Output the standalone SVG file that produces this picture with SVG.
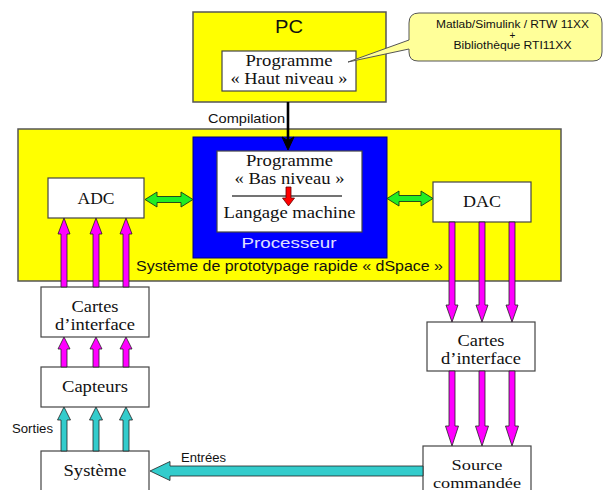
<svg xmlns="http://www.w3.org/2000/svg" width="604" height="490" viewBox="0 0 604 490">
<style>
.box{fill:#fff;stroke:#444;stroke-width:1.2}
.yel{fill:#ffff00;stroke:#555;stroke-width:1.5}
.serif{font-family:"Liberation Serif","Times New Roman",serif;font-size:17px;fill:#111;text-anchor:middle}
.sans{font-family:"Liberation Sans",Arial,sans-serif;fill:#111}
.mag{fill:#ff00ff;stroke:#222;stroke-width:0.8}
.teal{fill:#33cccc;stroke:#222;stroke-width:0.8}
.grn{fill:#22ee22;stroke:#1a3a1a;stroke-width:0.9}
</style>
<rect width="604" height="490" fill="#fff"/>
<g id="dspace">
<rect class="yel" x="18" y="129" width="543" height="152"/>
<text class="sans" x="289.5" y="271" font-size="14" text-anchor="middle" textLength="307" lengthAdjust="spacingAndGlyphs">Système de prototypage rapide « dSpace »</text>
</g>
<g id="pc">
<rect class="yel" x="193" y="12" width="193" height="90"/>
<text class="sans" x="289" y="33" font-size="18" text-anchor="middle" textLength="28" lengthAdjust="spacingAndGlyphs">PC</text>
</g>
<g id="haut-niveau">
<rect class="box" x="222" y="51" width="134" height="40"/>
<text class="serif" x="289" y="65.5" textLength="87" lengthAdjust="spacingAndGlyphs">Programme</text>
<text class="serif" x="289" y="83.5" textLength="117" lengthAdjust="spacingAndGlyphs">« Haut niveau »</text>
</g>
<g id="callout">
<path d="M419,13 H592 Q602,13 602,23 V52 Q602,61 593,61 H418 Q409,61 409,52 V49 L348,62 L409,40 V23 Q409,13 419,13 Z" fill="#ffff99" stroke="#555" stroke-width="1"/>
<g class="sans" font-size="10" text-anchor="middle">
<text x="512.5" y="28" textLength="153" lengthAdjust="spacingAndGlyphs">Matlab/Simulink / RTW 11XX</text>
<text x="512.5" y="38.5">+</text>
<text x="512.5" y="49" textLength="118" lengthAdjust="spacingAndGlyphs">Bibliothèque RTI11XX</text>
</g>
</g>
<g id="processeur">
<rect x="193" y="137" width="194" height="121" fill="#0000ff" stroke="#000080" stroke-width="1"/>
<rect class="box" x="217" y="151" width="145" height="81"/>
<text class="serif" x="289.5" y="165.5" textLength="87" lengthAdjust="spacingAndGlyphs">Programme</text>
<text class="serif" x="289.5" y="183.5" textLength="110" lengthAdjust="spacingAndGlyphs">« Bas niveau »</text>
<line x1="232" y1="196" x2="342" y2="196" stroke="#444" stroke-width="1.5"/>
<path d="M286,187 L286,198 L282.5,198 L288.5,206 L294.5,198 L291,198 L291,187 Z" fill="#ff0000" stroke="#600" stroke-width="0.8"/>
<text class="serif" x="289.5" y="218" textLength="132" lengthAdjust="spacingAndGlyphs">Langage machine</text>
<text class="sans" x="289" y="248" font-size="15" style="fill:#e0e0ff" text-anchor="middle" textLength="95" lengthAdjust="spacingAndGlyphs">Processeur</text>
</g>
<g id="adc">
<rect class="box" x="48" y="178" width="96" height="40"/>
<text class="serif" x="96" y="203.5" textLength="37" lengthAdjust="spacingAndGlyphs">ADC</text>
</g>
<g id="dac">
<rect class="box" x="433" y="182" width="98" height="40"/>
<text class="serif" x="482" y="207" textLength="38" lengthAdjust="spacingAndGlyphs">DAC</text>
</g>
<g id="cartes-gauche">
<rect class="box" x="41" y="287" width="108" height="50"/>
<text class="serif" x="95" y="312" textLength="47" lengthAdjust="spacingAndGlyphs">Cartes</text>
<text class="serif" x="95" y="330" textLength="80" lengthAdjust="spacingAndGlyphs">d’interface</text>
</g>
<g id="capteurs">
<rect class="box" x="41" y="367" width="108" height="40"/>
<text class="serif" x="95" y="392" textLength="66" lengthAdjust="spacingAndGlyphs">Capteurs</text>
</g>
<g id="systeme">
<rect class="box" x="41" y="451" width="108" height="45"/>
<text class="serif" x="95" y="476" textLength="63" lengthAdjust="spacingAndGlyphs">Système</text>
</g>
<g id="cartes-droite">
<rect class="box" x="427" y="322" width="108" height="49"/>
<text class="serif" x="481" y="345.5" textLength="47" lengthAdjust="spacingAndGlyphs">Cartes</text>
<text class="serif" x="481" y="363.5" textLength="80" lengthAdjust="spacingAndGlyphs">d’interface</text>
</g>
<g id="source">
<rect class="box" x="423" y="446" width="108" height="50"/>
<text class="serif" x="477" y="470" style="font-size:15.5px" textLength="51" lengthAdjust="spacingAndGlyphs">Source</text>
<text class="serif" x="477" y="488" style="font-size:15.5px" textLength="88" lengthAdjust="spacingAndGlyphs">commandée</text>
</g>
<g id="connectors">
<line x1="288" y1="102" x2="288" y2="142" stroke="#000" stroke-width="2.6"/>
<path d="M282,137 L288,150 L294,137 L288,140.5 Z" fill="#000" stroke="#000" stroke-width="1"/>
<text class="sans" x="208" y="123" font-size="13" textLength="77" lengthAdjust="spacingAndGlyphs">Compilation</text>
<path class="grn" d="M145,199.5 L157,192 L157,196.5 L181,196.5 L181,192 L193,199.5 L181,207 L181,202.5 L157,202.5 L157,207 Z"/>
<path class="grn" d="M387,198.5 L399,191 L399,195.5 L421,195.5 L421,191 L433,198.5 L421,206 L421,201.5 L399,201.5 L399,206 Z"/>
<path class="mag" d="M61,287 L61,234 L58,234 L64,218 L70,234 L67,234 L67,287 Z"/>
<path class="mag" d="M93,287 L93,234 L90,234 L96,218 L102,234 L99,234 L99,287 Z"/>
<path class="mag" d="M123,287 L123,234 L120,234 L126,218 L132,234 L129,234 L129,287 Z"/>
<path class="mag" d="M61,367 L61,349 L58,349 L64,337 L70,349 L67,349 L67,367 Z"/>
<path class="mag" d="M93,367 L93,349 L90,349 L96,337 L102,349 L99,349 L99,367 Z"/>
<path class="mag" d="M123,367 L123,349 L120,349 L126,337 L132,349 L129,349 L129,367 Z"/>
<path class="teal" d="M61,451 L61,420 L57.5,420 L64,407 L70.5,420 L67,420 L67,451 Z"/>
<path class="teal" d="M93,451 L93,420 L89.5,420 L96,407 L102.5,420 L99,420 L99,451 Z"/>
<path class="teal" d="M123,451 L123,420 L119.5,420 L126,407 L132.5,420 L129,420 L129,451 Z"/>
<text class="sans" x="12" y="433" font-size="12" textLength="41" lengthAdjust="spacingAndGlyphs">Sorties</text>
<path class="mag" d="M449,222 L449,305 L446,305 L452,322 L458,305 L455,305 L455,222 Z"/>
<path class="mag" d="M479,222 L479,305 L476,305 L482,322 L488,305 L485,305 L485,222 Z"/>
<path class="mag" d="M509,222 L509,305 L506,305 L512,322 L518,305 L515,305 L515,222 Z"/>
<path class="mag" d="M449,371 L449,426 L445.5,426 L452,446 L458.5,426 L455,426 L455,371 Z"/>
<path class="mag" d="M479,371 L479,426 L475.5,426 L482,446 L488.5,426 L485,426 L485,371 Z"/>
<path class="mag" d="M509,371 L509,426 L505.5,426 L512,446 L518.5,426 L515,426 L515,371 Z"/>
<path class="teal" d="M150,471 L170,461.5 L170,466 L423,466 L423,476 L170,476 L170,480.5 Z"/>
<text class="sans" x="181" y="462" font-size="12" textLength="45" lengthAdjust="spacingAndGlyphs">Entrées</text>
</g>
</svg>
